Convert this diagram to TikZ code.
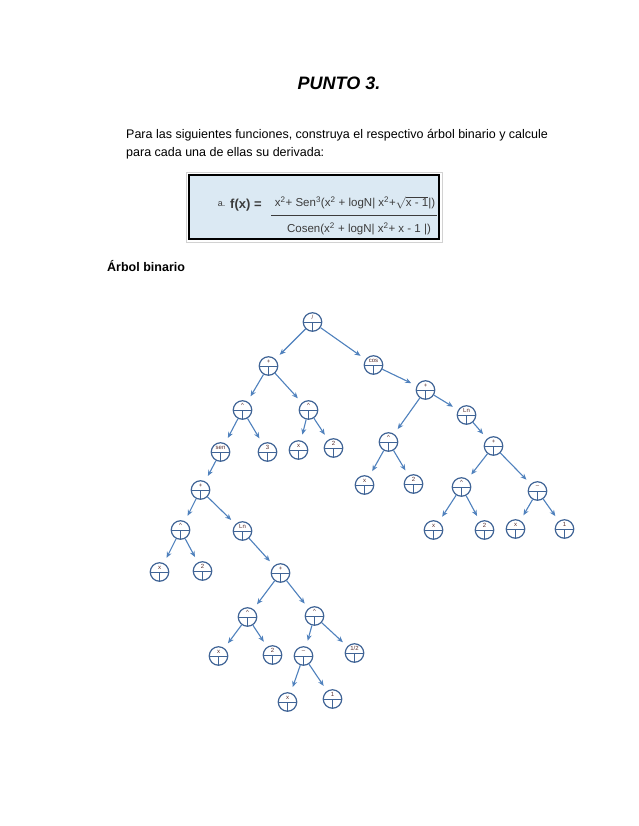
\documentclass[tikz,border=0pt]{standalone}
\usepackage{fontspec}
\setmainfont{Liberation Sans}
\usetikzlibrary{positioning,arrows.meta}
\definecolor{linkblue}{RGB}{79,129,189}
\definecolor{ringblue}{RGB}{64,100,150}
\definecolor{boxfill}{RGB}{219,233,243}
\definecolor{labelred}{RGB}{85,45,45}
\definecolor{formgray}{RGB}{60,60,60}

\begin{document}
\begin{tikzpicture}[
  x=1pt, y=-1pt,
  on grid,
  tnode/.style={circle, draw=ringblue, line width=1.2pt, minimum size=18.5pt, inner sep=0pt, fill=white,
    path picture={\draw[ringblue, line width=0.7pt] (path picture bounding box.west) -- (path picture bounding box.east);
      \draw[ringblue, line width=0.7pt] (path picture bounding box.center) -- (path picture bounding box.south);},
    label={[tlabel]center:#1}},
  tlabel/.style={yshift=4.3pt, font=\fontsize{6}{6}\selectfont, text=labelred, inner sep=0pt},
  arrow/.style={-{Stealth[length=6pt,width=5pt]}, linkblue, line width=1.1pt, shorten >=6pt},
  bodytext/.style={font=\fontsize{12.5}{15}\selectfont, inner sep=0pt},
  ftext/.style={font=\fontsize{11.5}{13}\selectfont, text=formgray, inner sep=0pt}
]
\fill[white] (0,0) rectangle (638,826);
\useasboundingbox (0,0) rectangle (638,826);

% header text
\node[font=\fontsize{18}{20}\selectfont\bfseries\itshape, anchor=base, inner sep=0pt] (title) at (339,90) {PUNTO 3.};
\node[bodytext, anchor=base west] (introA) at (126,139) {Para las siguientes funciones, construya el respectivo árbol binario y calcule};
\node[bodytext, anchor=base west] (introB) at (126,157) {para cada una de ellas su derivada:};

% formula box
\draw[gray!35, line width=0.6pt] (186,172) rectangle (442,242);
\draw[black, line width=2pt, fill=boxfill] (189,175) rectangle (439,239);
\node[ftext, font=\fontsize{9}{10}\selectfont, anchor=base] (alabel) at (221.5,207) {a.};
\node[ftext, font=\fontsize{13}{14}\selectfont\bfseries, anchor=base west] (fname) at (230,209) {f(x) =};
\node[ftext, anchor=base] (num) at (355,207) {x\textsuperscript{2}+ Sen\textsuperscript{3}(x\textsuperscript{2} + logN| x\textsuperscript{2}+\ensuremath{\sqrt{\mbox{x - 1}}}|)};
\draw[formgray, line width=1pt] (271,216) -- (437,216);
\node[ftext, anchor=base] (den) at (359,233) {Cosen(x\textsuperscript{2} + logN| x\textsuperscript{2}+ x - 1 |)};

\node[font=\fontsize{12.5}{14}\selectfont\bfseries, anchor=base west, inner sep=0pt] (heading) at (107,271) {Árbol binario};

% tree
\node[tnode=/] (root) at (312.5,322) {};
\node[tnode=+, below left=44pt and 44pt of root] (plusL) {};
\node[tnode=cos, below right=43pt and 61pt of root] (cos) {};

\node[tnode=\textasciicircum, below left=44pt and 26pt of plusL] (powA) {};
\node[tnode=\textasciicircum, below right=44pt and 40pt of plusL] (powB) {};
\node[tnode=sen, below left=42pt and 22pt of powA] (sen) {};
\node[tnode=3, below right=42pt and 25pt of powA] (three) {};
\node[tnode=x, below left=40pt and 10pt of powB] (xB) {};
\node[tnode=2, below right=38pt and 25pt of powB] (twoB) {};

\node[tnode=+, below left=38pt and 20pt of sen] (sumS) {};
\node[tnode=\textasciicircum, below left=40pt and 20pt of sumS] (powC) {};
\node[tnode=Ln, below right=41pt and 42pt of sumS] (lnA) {};
\node[tnode=x, below left=42pt and 21pt of powC] (xC) {};
\node[tnode=2, below right=41pt and 22pt of powC] (twoC) {};

\node[tnode=+, below right=42pt and 38pt of lnA] (sumT) {};
\node[tnode=\textasciicircum, below left=44pt and 33pt of sumT] (powD) {};
\node[tnode=\textasciicircum, below right=43pt and 34pt of sumT] (powE) {};
\node[tnode=x, below left=39pt and 29pt of powD] (xD) {};
\node[tnode=2, below right=38pt and 25pt of powD] (twoD) {};
\node[tnode=--, below left=40pt and 11pt of powE] (minA) {};
\node[tnode=1/2, below right=37pt and 40pt of powE] (half) {};
\node[tnode=x, below left=46pt and 16pt of minA] (xE) {};
\node[tnode=1, below right=43pt and 29pt of minA] (oneE) {};

\node[tnode=+, below right=25pt and 52pt of cos] (sumC) {};
\node[tnode=\textasciicircum, below left=52pt and 37pt of sumC] (powF) {};
\node[tnode=Ln, below right=25pt and 41pt of sumC] (lnB) {};
\node[tnode=x, below left=43pt and 24pt of powF] (xF) {};
\node[tnode=2, below right=42pt and 25pt of powF] (twoF) {};

\node[tnode=+, below right=31pt and 27pt of lnB] (sumU) {};
\node[tnode=\textasciicircum, below left=41pt and 32pt of sumU] (powG) {};
\node[tnode=--, below right=45pt and 44pt of sumU] (minB) {};
\node[tnode=x, below left=43pt and 28pt of powG] (xG) {};
\node[tnode=2, below right=43pt and 23pt of powG] (twoG) {};
\node[tnode=x, below left=38pt and 22pt of minB] (xH) {};
\node[tnode=1, below right=38pt and 27pt of minB] (oneH) {};

\draw[arrow] (root) -- (plusL);
\draw[arrow] (root) -- (cos);
\draw[arrow] (plusL) -- (powA);
\draw[arrow] (plusL) -- (powB);
\draw[arrow] (powA) -- (sen);
\draw[arrow] (powA) -- (three);
\draw[arrow] (powB) -- (xB);
\draw[arrow] (powB) -- (twoB);
\draw[arrow] (sen) -- (sumS);
\draw[arrow] (sumS) -- (powC);
\draw[arrow] (sumS) -- (lnA);
\draw[arrow] (powC) -- (xC);
\draw[arrow] (powC) -- (twoC);
\draw[arrow] (lnA) -- (sumT);
\draw[arrow] (sumT) -- (powD);
\draw[arrow] (sumT) -- (powE);
\draw[arrow] (powD) -- (xD);
\draw[arrow] (powD) -- (twoD);
\draw[arrow] (powE) -- (minA);
\draw[arrow] (powE) -- (half);
\draw[arrow] (minA) -- (xE);
\draw[arrow] (minA) -- (oneE);
\draw[arrow] (cos) -- (sumC);
\draw[arrow] (sumC) -- (powF);
\draw[arrow] (sumC) -- (lnB);
\draw[arrow] (powF) -- (xF);
\draw[arrow] (powF) -- (twoF);
\draw[arrow] (lnB) -- (sumU);
\draw[arrow] (sumU) -- (powG);
\draw[arrow] (sumU) -- (minB);
\draw[arrow] (powG) -- (xG);
\draw[arrow] (powG) -- (twoG);
\draw[arrow] (minB) -- (xH);
\draw[arrow] (minB) -- (oneH);
\end{tikzpicture}
\end{document}
